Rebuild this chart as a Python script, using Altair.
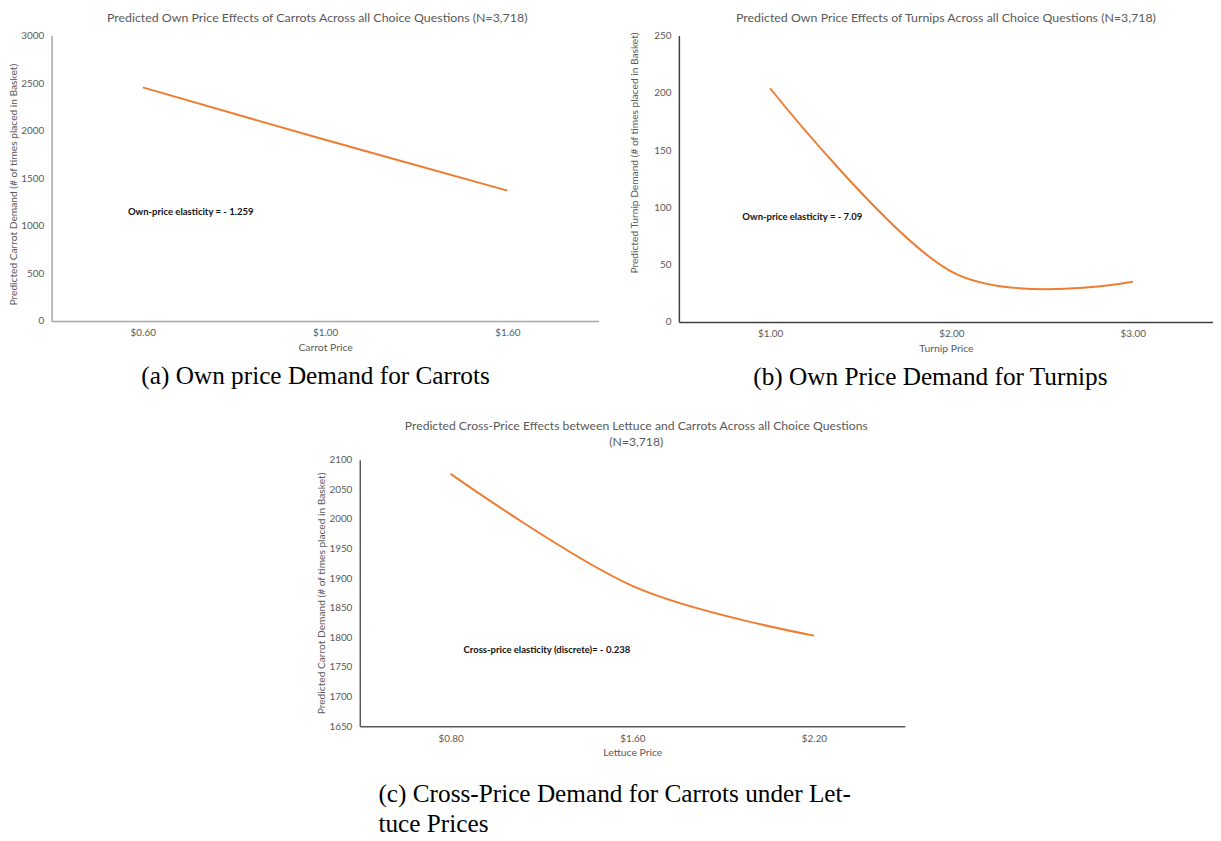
import altair as alt
import pandas as pd

# ---- data ----
carrot_prices = ["$0.60", "$1.00", "$1.60"]
carrot_demand = [2455, 1905, 1370]

turnip_prices = ["$1.00", "$2.00", "$3.00"]
turnip_demand = [204, 44, 35]

lettuce_prices = ["$0.80", "$1.60", "$2.20"]
carrot_cross_demand = [2076, 1887, 1803]

carrot_ticks = [0, 500, 1000, 1500, 2000, 2500, 3000]
turnip_ticks = [0, 50, 100, 150, 200, 250]
cross_ticks = [1650, 1700, 1750, 1800, 1850, 1900, 1950, 2000, 2050, 2100]

notes = {
    "a": ("Own-price elasticity = - 1.259", 1145),
    "b": ("Own-price elasticity = - 7.09", 91.5),
    "c": ("Cross-price elasticity (discrete)= - 0.238", 1779),
}

ORANGE = "#ED7D31"
SANS = "Lato"
SERIF = "Liberation Serif"
GREY_TXT = "#595959"


def panel(prices, demand, ticks, xtitle, ytitle, title, note, note_y, note_dx,
          width, height, axis_color, xscale_kw=None, title_dx=0, ytitle_y=None,
          label_pad=8, title_pad=2, title_offset=6, title_size=12.5):
    xscale_kw = xscale_kw or {}
    df = pd.DataFrame({"price": prices, "demand": demand})
    yaxis_kw = dict(values=ticks, tickCount=len(ticks), format="d", grid=False,
                    ticks=False, tickSize=0,
                    labelPadding=label_pad, labelFont=SANS, labelFontSize=10,
                    labelOverlap=False,
                    labelColor=GREY_TXT, domainColor=axis_color, domainWidth=1.5,
                    title=ytitle, titleFont=SANS, titleFontSize=10.3,
                    titleFontWeight="normal", titleColor=GREY_TXT,
                    titlePadding=title_pad)
    if ytitle_y is not None:
        yaxis_kw["titleY"] = ytitle_y
    x = alt.X("price:N",
              scale=alt.Scale(domain=prices, **xscale_kw),
              axis=alt.Axis(labelAngle=0, ticks=False, tickSize=0, labelPadding=7,
                            labelFont=SANS, labelFontSize=10, labelColor=GREY_TXT,
                            domainColor=axis_color, domainWidth=1.5, grid=False,
                            title=xtitle, titleFont=SANS, titleFontSize=10.5,
                            titleFontWeight="normal", titleColor=GREY_TXT,
                            titlePadding=5))
    y = alt.Y("demand:Q",
              scale=alt.Scale(domain=[ticks[0], ticks[-1]], nice=False, zero=False),
              axis=alt.Axis(**yaxis_kw))
    line = alt.Chart(df).mark_line(color=ORANGE, strokeWidth=2,
                                   interpolate="cardinal").encode(x=x, y=y)
    ndf = pd.DataFrame({"price": [prices[0]], "demand": [note_y], "label": [note]})
    text = alt.Chart(ndf).mark_text(align="left", baseline="middle", dx=note_dx,
                                    font=SANS, fontSize=9.6, fontWeight="bold",
                                    color="#111111").encode(
        x=alt.X("price:N"), y=alt.Y("demand:Q"), text="label:N")
    return alt.layer(line, text).properties(
        width=width, height=height,
        title=alt.TitleParams(title, font=SANS, fontSize=title_size, fontWeight="normal",
                              color=GREY_TXT, anchor="middle", offset=title_offset,
                              dx=title_dx, lineHeight=17))


pa = panel(carrot_prices, carrot_demand, carrot_ticks, "Carrot Price",
           "Predicted Carrot Demand (# of times placed in Basket)",
           "Predicted Own Price Effects of Carrots Across all Choice Questions (N=3,718)",
           notes["a"][0], notes["a"][1], -15, 552, 288, "#a6a6a6", title_dx=-8,
           ytitle_y=150)

pb = panel(turnip_prices, turnip_demand, turnip_ticks, "Turnip Price",
           "Predicted Turnip Demand (# of times placed in Basket)",
           "Predicted Own Price Effects of Turnips Across all Choice Questions (N=3,718)",
           notes["b"][0], notes["b"][1], -28, 539, 289, "#404040",
           xscale_kw=dict(padding=0.4727, align=0.532), label_pad=8, title_pad=14,
           ytitle_y=118)

pc = panel(lettuce_prices, carrot_cross_demand, cross_ticks, "Lettuce Price",
           "Predicted Carrot Demand (# of times placed in Basket)",
           ["Predicted Cross-Price Effects between Lettuce and Carrots Across all Choice Questions",
            "(N=3,718)"],
           notes["c"][0], notes["c"][1], 13, 550, 269, "#595959", title_dx=4,
           title_offset=6, title_size=12.3)


def caption(chart, lines, dx=0, anchor="middle", offset=12, line_height=37):
    return alt.vconcat(chart, title=alt.TitleParams(
        lines, orient="bottom", anchor=anchor, font=SERIF, fontSize=25.5,
        fontWeight="normal", color="#000000", offset=offset, dx=dx,
        lineHeight=line_height))


ca = caption(pa, "(a) Own price Demand for Carrots", dx=12, offset=11)
cb = caption(pb, "(b) Own Price Demand for Turnips", dx=9, offset=11)
cc = caption(pc, ["(c) Cross-Price Demand for Carrots under Let-", "tuce Prices"],
             anchor="start", dx=62, offset=24, line_height=30)

top = alt.hconcat(ca, cb, spacing=31)
chart = alt.vconcat(top, cc, spacing=29, center=True).properties(
    padding={"left": 0, "top": 0, "right": 0, "bottom": 0},
    background="white",
).configure_view(strokeOpacity=0, strokeWidth=0)

chart.save("out.html", embed_options={"renderer": "svg", "actions": False})
